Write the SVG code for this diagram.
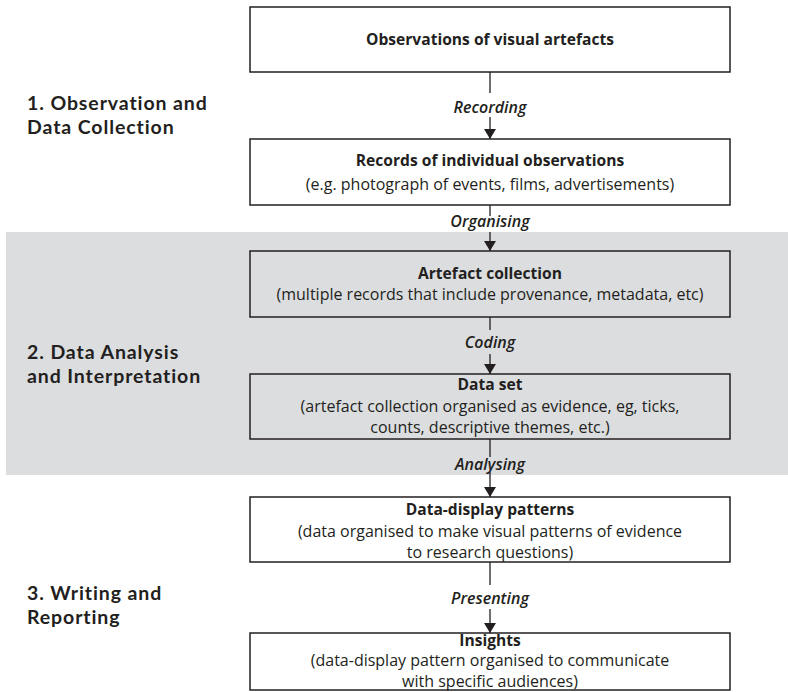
<svg xmlns="http://www.w3.org/2000/svg" width="788" height="692" viewBox="0 0 788 692">
<defs>
<style>
.box{fill:#ffffff;stroke:#231f20;stroke-width:1.5}
.gbox{fill:#dcdddf;stroke:#231f20;stroke-width:1.5}
.t{font-family:"Open Sans","Noto Sans","Liberation Sans",sans-serif;fill:#231f20;text-anchor:middle;font-size:16px}
.b{font-weight:700;font-size:15.6px}
.lab{font-family:"Open Sans","Noto Sans","Liberation Sans",sans-serif;fill:#231f20;text-anchor:middle;font-size:16px;font-style:italic;font-weight:600}
.sec{font-family:Lato,"Open Sans","Liberation Sans",sans-serif;fill:#231f20;font-size:19.5px;font-weight:700;letter-spacing:0.9px}
.ln{stroke:#231f20;stroke-width:1.3;fill:none}
</style>
<marker id="ah" viewBox="0 0 10 12" refX="10" refY="6" markerWidth="10" markerHeight="12" markerUnits="userSpaceOnUse" orient="auto">
<path d="M0,0 L10,6 L0,12 Z" fill="#231f20"/>
</marker>
</defs>
<rect width="788" height="692" fill="#ffffff"/>
<rect id="band" x="6" y="232" width="782" height="243" fill="#dcdddf"/>

<g id="sections">
<text class="sec" x="27" y="110">1. Observation and</text>
<text class="sec" x="27" y="134">Data Collection</text>
<text class="sec" x="27" y="359">2. Data Analysis</text>
<text class="sec" x="27" y="383">and Interpretation</text>
<text class="sec" x="27" y="600">3. Writing and</text>
<text class="sec" x="27" y="624">Reporting</text>
</g>

<g id="connectors">
<line class="ln" x1="490" y1="72" x2="490" y2="93"/>
<line class="ln" x1="490" y1="117" x2="490" y2="139" marker-end="url(#ah)"/>
<text class="lab" x="490" y="113">Recording</text>
<line class="ln" x1="490" y1="205" x2="490" y2="216"/>
<line class="ln" x1="490" y1="232" x2="490" y2="251" marker-end="url(#ah)"/>
<text class="lab" x="490" y="227">Organising</text>
<line class="ln" x1="490" y1="317" x2="490" y2="330"/>
<line class="ln" x1="490" y1="354" x2="490" y2="374" marker-end="url(#ah)"/>
<text class="lab" x="490" y="348">Coding</text>
<line class="ln" x1="490" y1="439" x2="490" y2="457"/>
<line class="ln" x1="490" y1="472" x2="490" y2="497" marker-end="url(#ah)"/>
<text class="lab" x="490" y="470">Analysing</text>
<line class="ln" x1="490" y1="562" x2="490" y2="585"/>
<line class="ln" x1="490" y1="609" x2="490" y2="633" marker-end="url(#ah)"/>
<text class="lab" x="490" y="604">Presenting</text>
</g>

<g id="n1">
<rect class="box" x="250" y="7" width="480" height="65"/>
<text class="t b" x="490" y="45">Observations of visual artefacts</text>
</g>
<g id="n2">
<rect class="box" x="250" y="139" width="480" height="66"/>
<text class="t b" x="490" y="166">Records of individual observations</text>
<text class="t" x="490" y="190">(e.g. photograph of events, films, advertisements)</text>
</g>
<g id="n3">
<rect class="gbox" x="250" y="251" width="480" height="66"/>
<text class="t b" x="490" y="279">Artefact collection</text>
<text class="t" x="490" y="300">(multiple records that include provenance, metadata, etc)</text>
</g>
<g id="n4">
<rect class="gbox" x="250" y="374" width="480" height="65"/>
<text class="t b" x="490" y="390">Data set</text>
<text class="t" x="490" y="412">(artefact collection organised as evidence, eg, ticks,</text>
<text class="t" x="490" y="433">counts, descriptive themes, etc.)</text>
</g>
<g id="n5">
<rect class="box" x="250" y="497" width="480" height="65"/>
<text class="t b" x="490" y="515">Data-display patterns</text>
<text class="t" x="490" y="537">(data organised to make visual patterns of evidence</text>
<text class="t" x="490" y="558">to research questions)</text>
</g>
<g id="n6">
<rect class="box" x="250" y="633" width="480" height="57"/>
<text class="t b" x="490" y="646">Insights</text>
<text class="t" x="490" y="666">(data-display pattern organised to communicate</text>
<text class="t" x="490" y="687">with specific audiences)</text>
</g>
</svg>
